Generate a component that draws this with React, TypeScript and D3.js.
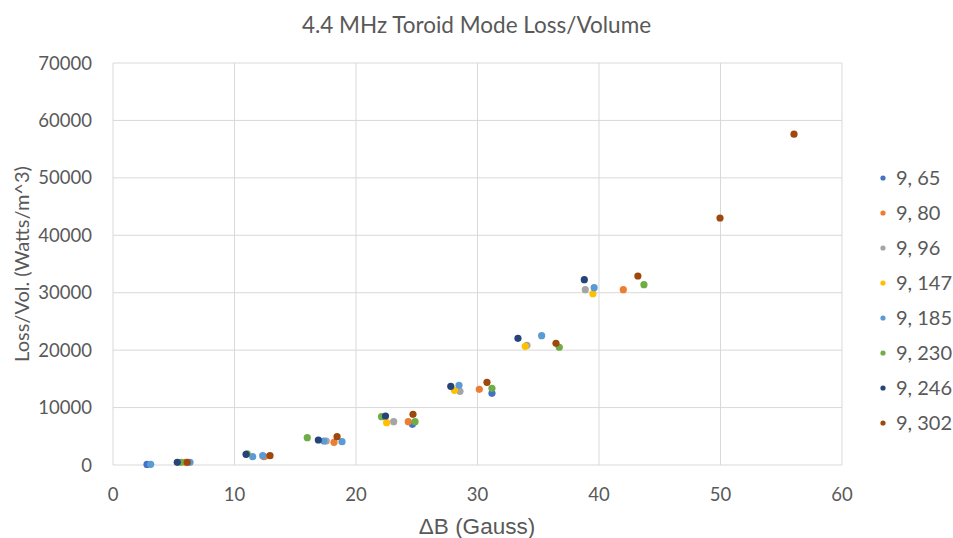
import React from "react";
import * as d3 from "d3";

const seriesNames = ["9, 65", "9, 80", "9, 96", "9, 147", "9, 185", "9, 230", "9, 246", "9, 302"];
const seriesColors = ["#4472C4", "#ED7D31", "#A5A5A5", "#FFC000", "#5B9BD5", "#70AD47", "#264478", "#9E480E"];

const s65: [number, number][] = [[2.8, 100], [24.64, 7080], [31.19, 12480]];
const s80: [number, number][] = [[5.93, 470], [12.43, 1450], [18.19, 3950], [24.3, 7540], [30.15, 13180], [42.0, 30530]];
const s96: [number, number][] = [[17.55, 4180], [23.1, 7540], [28.56, 12830], [34.07, 20840], [38.87, 30530]];
const s147: [number, number][] = [[22.52, 7370], [28.1, 13000], [33.93, 20670], [39.5, 29830]];
const s185: [number, number][] = [[3.1, 120], [6.34, 470], [11.5, 1450], [12.32, 1620], [17.35, 4180], [18.85, 4060], [28.48, 13880], [35.28, 22520], [39.6, 30870]];
const s230: [number, number][] = [[5.6, 470], [11.05, 1950], [15.99, 4750], [22.1, 8410], [24.86, 7540], [31.19, 13350], [36.73, 20500], [43.7, 31400]];
const s246: [number, number][] = [[5.29, 470], [10.95, 1860], [16.9, 4350], [22.43, 8530], [27.8, 13700], [33.33, 22060], [38.79, 32270]];
const s302: [number, number][] = [[6.11, 470], [12.92, 1620], [18.44, 4930], [24.69, 8820], [30.78, 14400], [36.46, 21190], [43.2, 32910], [49.96, 43010], [56.05, 57600]];

const seriesData = [s65, s80, s96, s147, s185, s230, s246, s302];

const xTicks = [0, 10, 20, 30, 40, 50, 60];
const yTicks = [0, 10000, 20000, 30000, 40000, 50000, 60000, 70000];

const title = "4.4 MHz Toroid Mode Loss/Volume";
const xTitle = "ΔB (Gauss)";
const yTitle = "Loss/Vol. (Watts/m^3)";

export default function App() {
  const W = 953, H = 538;
  const x = d3.scaleLinear().domain([0, 60]).range([113, 842]);
  const y = d3.scaleLinear().domain([0, 70000]).range([465, 63]);
  const font = "Lato, 'Open Sans', sans-serif";
  const textColor = "#595959";
  const grid = "#D9D9D9";

  return (
    <svg width={W} height={H} style={{ position: "absolute", left: 0, top: 0, background: "#fff" }}>
      <rect x={0} y={0} width={W} height={H} fill="#fff" />
      <text x={476.5} y={33} textAnchor="middle" fontFamily={font} fontSize={22.5} fill={textColor}>{title}</text>
      {xTicks.map((t) => (
        <line key={"gx" + t} x1={x(t)} x2={x(t)} y1={y(70000)} y2={y(0)} stroke={grid} strokeWidth={1} />
      ))}
      {yTicks.map((t) => (
        <line key={"gy" + t} x1={x(0)} x2={x(60)} y1={y(t)} y2={y(t)} stroke={grid} strokeWidth={1} />
      ))}
      {xTicks.map((t) => (
        <text key={"tx" + t} x={x(t)} y={501} textAnchor="middle" fontFamily={font} fontSize={18.5} fill={textColor}>{t}</text>
      ))}
      {yTicks.map((t) => (
        <text key={"ty" + t} x={92} y={y(t) + 6.5} textAnchor="end" fontFamily={font} fontSize={18.5} fill={textColor}>{t}</text>
      ))}
      <text x={477} y={534} textAnchor="middle" fontFamily="'Liberation Sans', Arial, sans-serif" fontSize={22.5} fill={textColor}>{xTitle}</text>
      <text transform="translate(29,264) rotate(-90)" textAnchor="middle" fontFamily={font} fontSize={20} fill={textColor}>{yTitle}</text>
      {seriesData.map((data, si) => (
        <g key={"s" + si}>
          {data.map((d, i) => (
            <circle key={i} cx={x(d[0])} cy={y(d[1])} r={3.6} fill={seriesColors[si]} />
          ))}
        </g>
      ))}
      {seriesNames.map((n, i) => (
        <g key={"l" + i}>
          <circle cx={883} cy={178 + i * 35} r={2.6} fill={seriesColors[i]} />
          <text x={896} y={178 + i * 35 + 7} fontFamily={font} fontSize={20} fill={textColor}>{n}</text>
        </g>
      ))}
    </svg>
  );
}
